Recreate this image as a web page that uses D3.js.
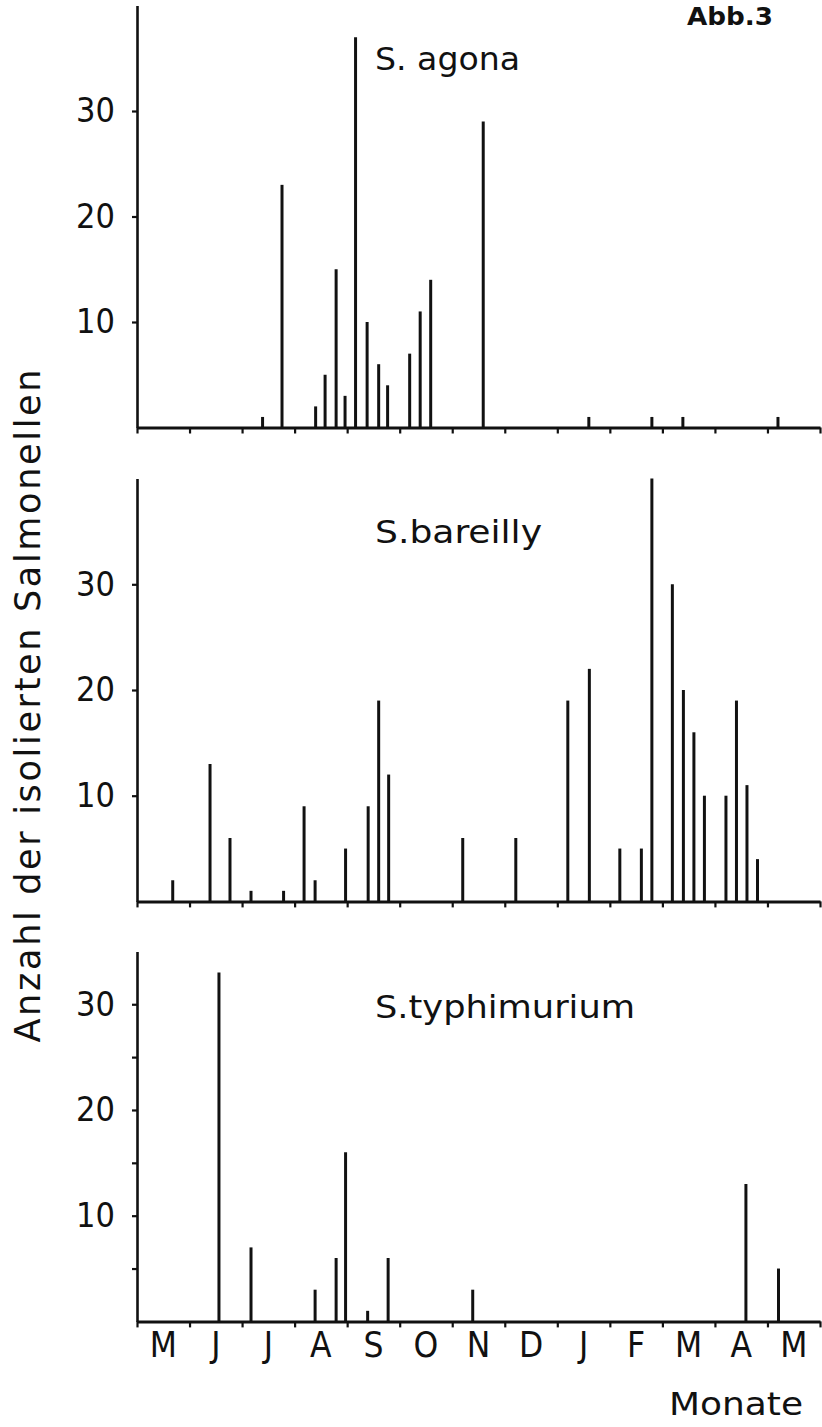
<!DOCTYPE html>
<html>
<head>
<meta charset="utf-8">
<script src="https://cdn.jsdelivr.net/npm/d3@7"></script>
<style>
  body { margin: 0; background: #fff; }
  svg { display: block; }
  text { font-family: "Liberation Sans Narrow", "DejaVu Sans Condensed", "Liberation Sans", sans-serif; fill: #111; }
</style>
</head>
<body>
<script>
// month labels along the time axis (May .. May)
var months = ['M', 'J', 'J', 'A', 'S', 'O', 'N', 'D', 'J', 'F', 'M', 'A', 'M'];

// position = months since start of the first May, value = number of isolates
var agonaPos = [2.39, 2.76, 3.40, 3.58, 3.79, 3.96, 4.16, 4.38, 4.60, 4.77, 5.19, 5.39, 5.59, 6.59, 8.60, 9.80, 10.39, 12.20];
var agonaVals = [1, 23, 2, 5, 15, 3, 37, 10, 6, 4, 7, 11, 14, 29, 1, 1, 1, 1];

var bareillyPos = [0.68, 1.39, 1.77, 2.17, 2.79, 3.18, 3.39, 3.97, 4.40, 4.60, 4.79, 6.20, 7.21, 8.20, 8.61, 9.19, 9.60, 9.80, 10.19, 10.40, 10.60, 10.80, 11.21, 11.41, 11.61, 11.81];
var bareillyVals = [2, 13, 6, 1, 1, 9, 2, 5, 9, 19, 12, 6, 6, 19, 22, 5, 5, 40, 30, 20, 16, 10, 10, 19, 11, 4];

var typhiPos = [1.56, 2.17, 3.39, 3.79, 3.97, 4.39, 4.78, 6.39, 11.59, 12.21];
var typhiVals = [33, 7, 3, 6, 16, 1, 6, 3, 13, 5];

var yLabels = [10, 20, 30];

var width = 822, height = 1427;
var left = 137, right = 820;

var svg = d3.select('body').append('svg')
    .attr('width', width)
    .attr('height', height);

var x = d3.scaleLinear()
    .domain([0, months.length])
    .range([left, right]);

var panels = [
    { title: 'S. agona', pos: agonaPos, vals: agonaVals, max: 40, bottom: 427.5, top: 5.5, minor: false, titleY: 70, titleW: 145 },
    { title: 'S.bareilly', pos: bareillyPos, vals: bareillyVals, max: 40, bottom: 901.4, top: 478.6, minor: false, titleY: 543, titleW: 167 },
    { title: 'S.typhimurium', pos: typhiPos, vals: typhiVals, max: 35, bottom: 1321.4, top: 951.4, minor: true, titleY: 1018, titleW: 260 }
];

panels.forEach(function(p) {
    var y = d3.scaleLinear()
        .domain([0, p.max])
        .range([p.bottom, p.top]);

    var g = svg.append('g');

    // bars as thin vertical strokes
    g.selectAll('.bar')
        .data(p.pos)
        .enter().append('line')
        .attr('class', 'bar')
        .attr('x1', function(d) { return x(d); })
        .attr('x2', function(d) { return x(d); })
        .attr('y1', y(0))
        .attr('y2', function(d, i) { return y(p.vals[i]); })
        .attr('stroke', '#111')
        .attr('stroke-width', 3);

    // x axis, ticks on month boundaries
    var xa = g.append('g')
        .attr('transform', 'translate(0,' + y(0) + ')')
        .call(d3.axisBottom(x)
            .tickValues(d3.range(0, months.length + 1))
            .tickFormat('')
            .tickSize(6)
            .tickSizeOuter(0));
    xa.select('.domain').attr('stroke', '#111').attr('stroke-width', 3);
    xa.selectAll('.tick line').attr('stroke', '#111').attr('stroke-width', 2.2);

    // y axis
    var ticks = p.minor ? [5, 10, 15, 20, 25, 30] : yLabels;
    var ya = g.append('g')
        .attr('transform', 'translate(' + left + ',0)')
        .call(d3.axisLeft(y)
            .tickValues(ticks)
            .tickFormat(function(d) { return yLabels.indexOf(d) >= 0 ? d : ''; })
            .tickSize(5)
            .tickSizeOuter(0)
            .tickPadding(17));
    ya.select('.domain').attr('stroke', '#111').attr('stroke-width', 2.6);
    ya.selectAll('.tick line').attr('stroke', '#111').attr('stroke-width', 2.2);
    ya.selectAll('.tick text')
        .style('font-family', '"Liberation Sans Narrow", "DejaVu Sans Condensed", "Liberation Sans", sans-serif')
        .style('font-size', '34px')
        .attr('fill', '#111');

    // serotype name
    g.append('text')
        .attr('x', 375)
        .attr('y', p.titleY)
        .attr('textLength', p.titleW)
        .attr('lengthAdjust', 'spacingAndGlyphs')
        .style('font-size', '32px')
        .text(p.title);
});

// month labels under the last panel
svg.selectAll('.month')
    .data(months)
    .enter().append('text')
    .attr('class', 'month')
    .attr('x', function(d, i) { return x(i + 0.5); })
    .attr('y', 1357)
    .attr('text-anchor', 'middle')
    .style('font-size', '35px')
    .text(function(d) { return d; });

svg.append('text')
    .attr('x', 803)
    .attr('y', 1415)
    .attr('text-anchor', 'end')
    .attr('textLength', 134)
    .attr('lengthAdjust', 'spacingAndGlyphs')
    .style('font-size', '32px')
    .text('Monate');

// y axis title
svg.append('text')
    .attr('transform', 'translate(40,706) rotate(-90)')
    .attr('text-anchor', 'middle')
    .attr('textLength', 673)
    .attr('lengthAdjust', 'spacing')
    .style('font-size', '35px')
    .style('font-family', '"DejaVu Sans", sans-serif')
    .text('Anzahl der isolierten Salmonellen');

svg.append('text')
    .attr('x', 687)
    .attr('y', 25)
    .attr('textLength', 86)
    .attr('lengthAdjust', 'spacingAndGlyphs')
    .style('font-size', '24px')
    .style('font-weight', '600')
    .text('Abb.3');
</script>
</body>
</html>
